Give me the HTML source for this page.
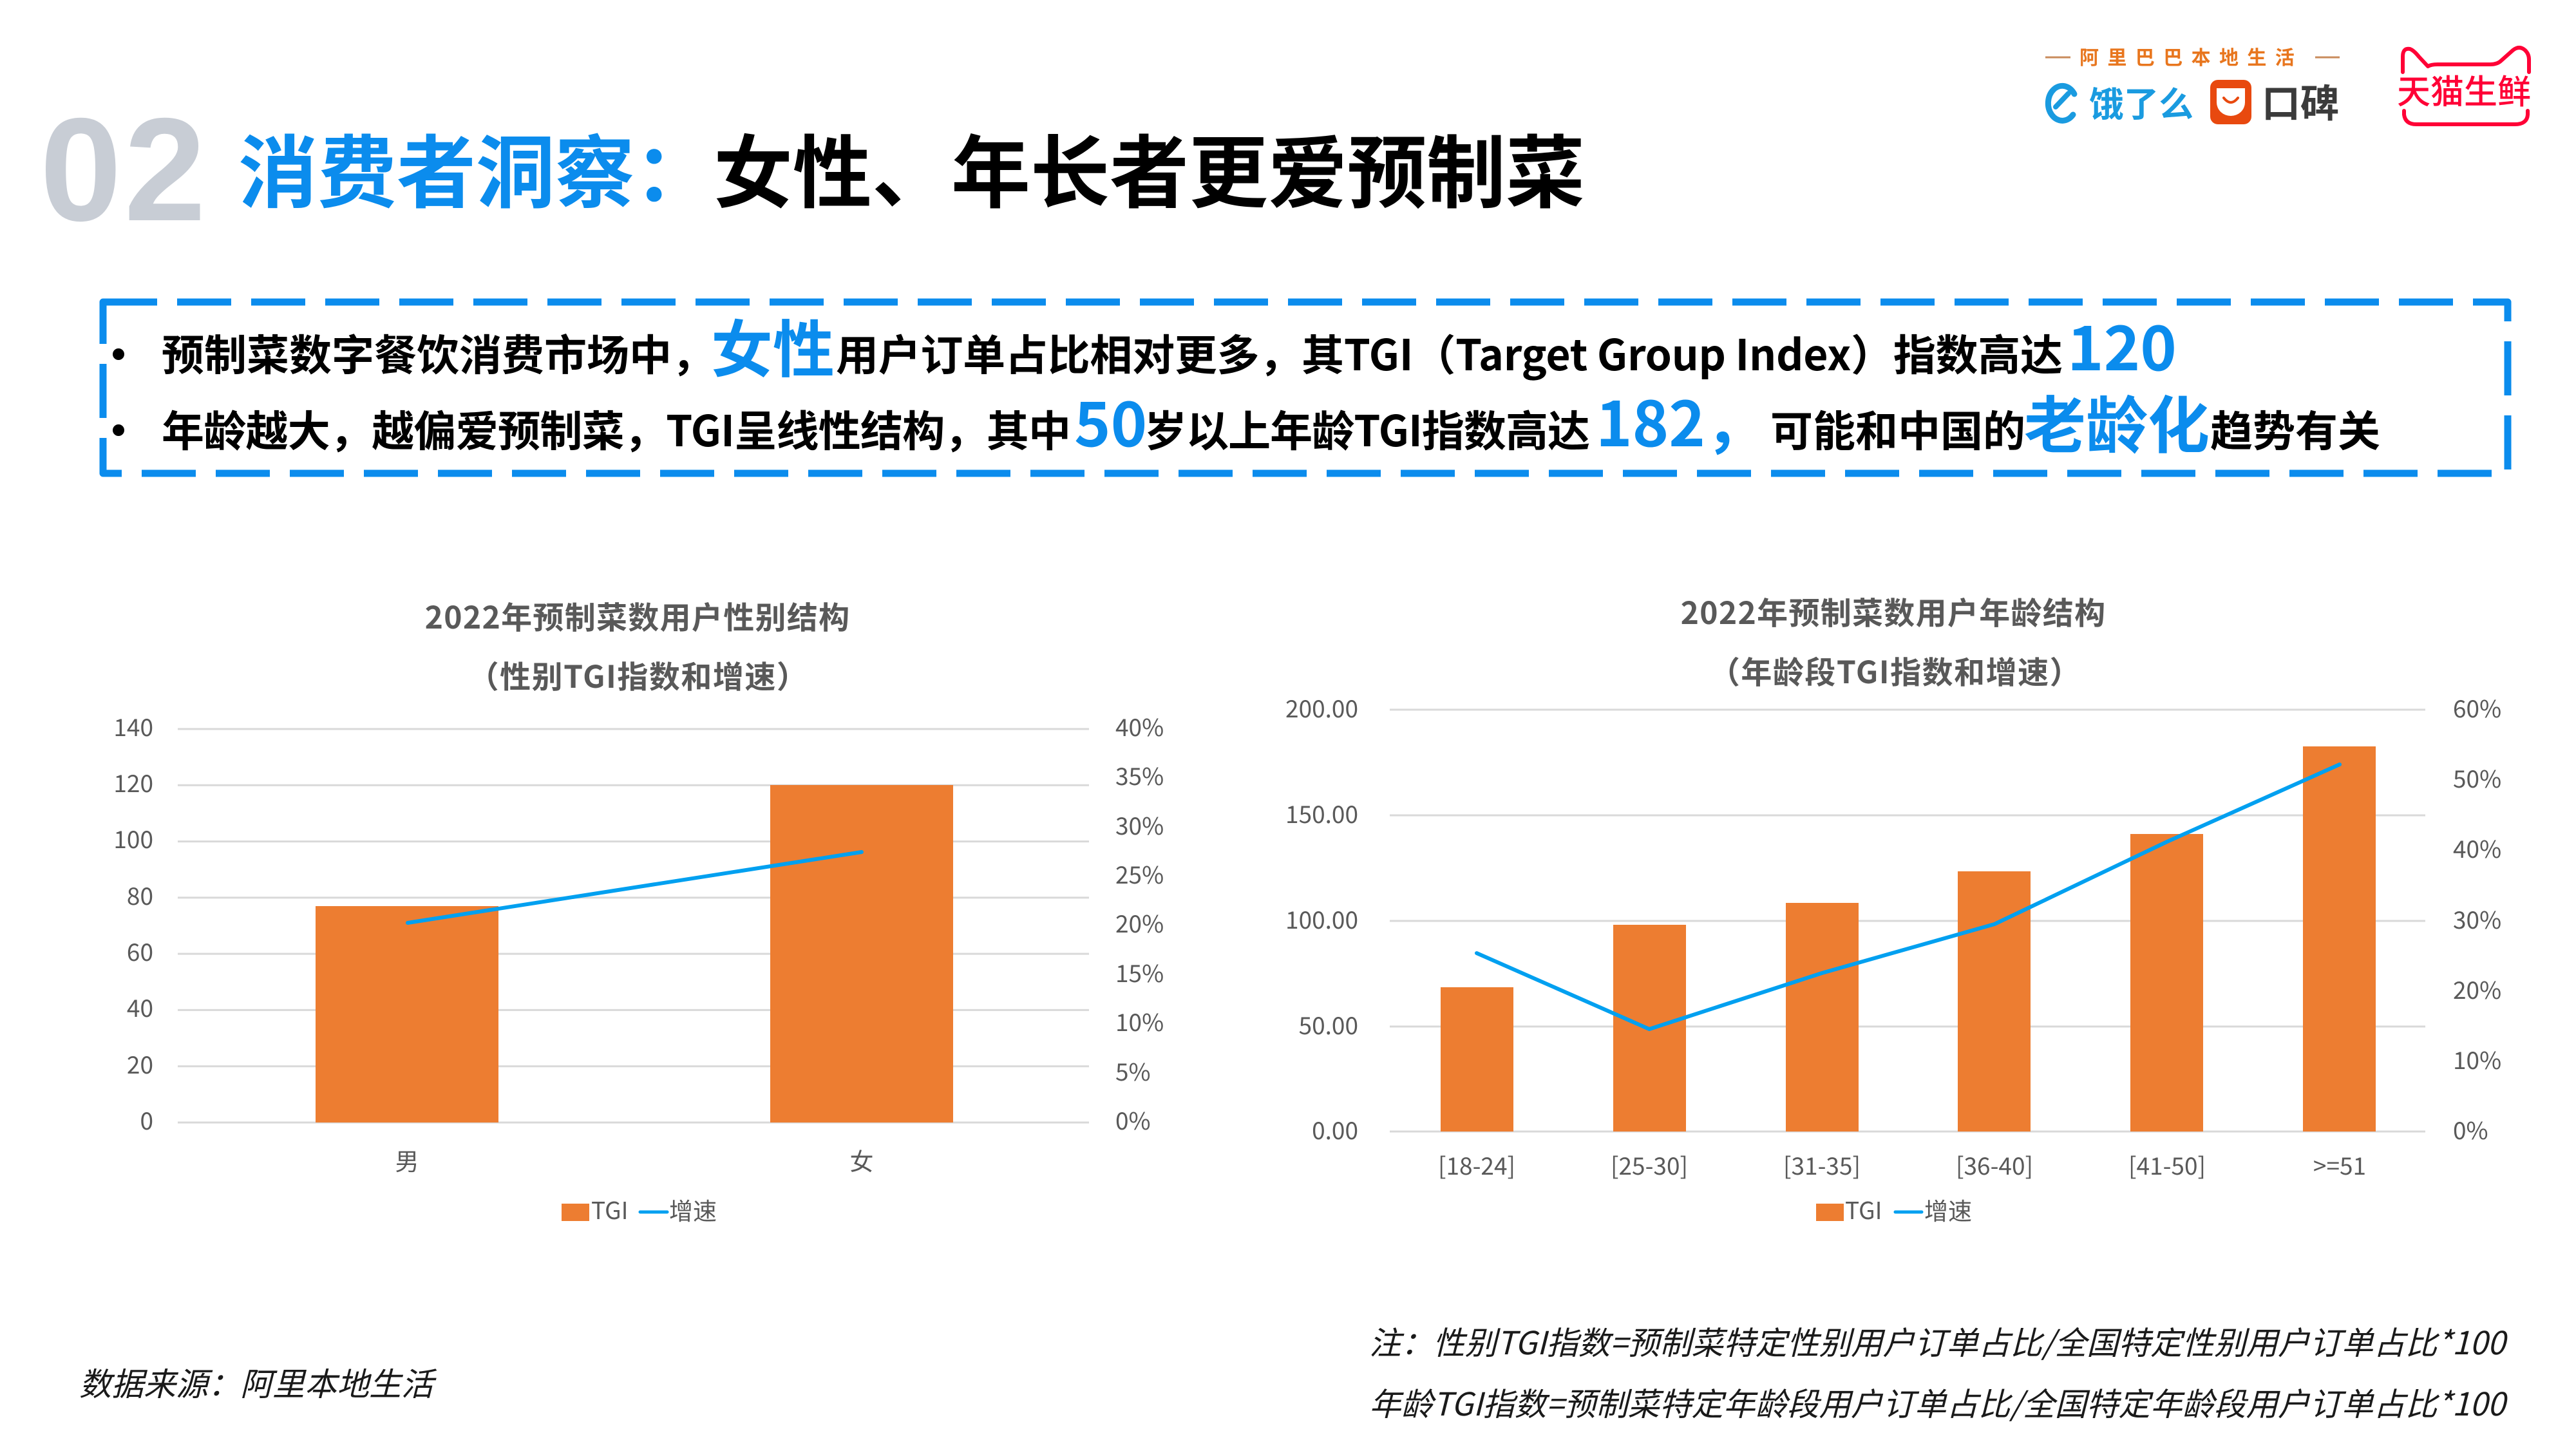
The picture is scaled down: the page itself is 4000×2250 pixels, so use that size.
<!DOCTYPE html>
<html>
<head>
<meta charset="utf-8">
<style>
html,body{margin:0;padding:0;background:#fff;}
svg{display:block;}
text{font-family:"Noto Sans CJK SC","Liberation Sans",sans-serif;}
</style>
</head>
<body>
<svg width="4000" height="2250" viewBox="0 0 4000 2250" xmlns="http://www.w3.org/2000/svg">
<rect x="0" y="0" width="4000" height="2250" fill="#ffffff"/>

<!-- ===== Header ===== -->
<text x="62" y="342" font-size="228" font-weight="700" fill="#c8cdd5" letter-spacing="4" style="font-family:'Liberation Sans',sans-serif">02</text>
<text x="370" y="312" font-size="123" font-weight="700"><tspan fill="#0b8ced">消费者洞察：</tspan><tspan fill="#000">女性、年长者更爱预制菜</tspan></text>

<!-- logos -->
<line x1="3176" y1="89" x2="3215" y2="89" stroke="#c98b5c" stroke-width="3"/>
<line x1="3595" y1="89" x2="3633" y2="89" stroke="#c98b5c" stroke-width="3"/>
<text x="3229" y="100" font-size="30" font-weight="700" fill="#e8761e" letter-spacing="13.4">阿里巴巴本地生活</text>

<path d="M3221,146 A22,27 0 1 0 3219,178" fill="none" stroke="#1a9be0" stroke-width="9" stroke-linecap="round"/>
<line x1="3192" y1="166" x2="3212" y2="145" stroke="#1a9be0" stroke-width="8" stroke-linecap="round"/>
<text x="3244" y="181" font-size="54" font-weight="700" fill="#1a9be0">饿了么</text>

<rect x="3432" y="124" width="64" height="69" rx="12" fill="#e8490f"/>
<path d="M3442,137 h44 v22 a22,21 0 0 1 -44,0 z" fill="#ffffff"/>
<path d="M3453,152 q11,14 22,0" fill="none" stroke="#e8490f" stroke-width="4" stroke-linecap="round"/>
<text x="3512" y="182" font-size="60" font-weight="700" fill="#3b3b3b">口碑</text>

<path d="M3731,112 V88 Q3731,74 3742,76 Q3748,78 3756,88 L3770,103 Q3775,100 3785,100 H3867 Q3878,100 3884,94 L3902,78 Q3912,70 3921,78 Q3927,84 3927,92 V112" fill="none" stroke="#ff0036" stroke-width="6" stroke-linejoin="round" stroke-linecap="round"/>
<path d="M3733,172 V178 Q3735,193 3752,193 H3905 Q3924,193 3925,178 V172" fill="none" stroke="#ff0036" stroke-width="6" stroke-linecap="round"/>
<text x="3722" y="161" font-size="52" font-weight="500" fill="#ff0036">天猫生鲜</text>

<!-- ===== Dashed box ===== -->
<rect x="160" y="469" width="3734" height="266" fill="none" stroke="#0b8ced" stroke-width="11" stroke-dasharray="84 31" stroke-linejoin="round"/>

<circle cx="184" cy="550" r="9" fill="#000"/>
<circle cx="184" cy="668" r="9" fill="#000"/>

<g font-size="66" font-weight="700" fill="#000">
<text x="251" y="575">预制菜数字餐饮消费市场中，</text>
<text x="1104" y="577" font-size="96" fill="#0b8ced">女性</text>
<text x="1298" y="575" textLength="1905" lengthAdjust="spacing">用户订单占比相对更多，其TGI（Target Group Index）指数高达</text>
<text x="3210" y="575" font-size="96" fill="#0b8ced">120</text>

<text x="251" y="693" textLength="1412" lengthAdjust="spacing">年龄越大，越偏爱预制菜，TGI呈线性结构，其中</text>
<text x="1668" y="693" font-size="96" fill="#0b8ced">50</text>
<text x="1777" y="693" textLength="692" lengthAdjust="spacing">岁以上年龄TGI指数高达</text>
<text x="2478" y="693" font-size="96" fill="#0b8ced">182，</text>
<text x="2749" y="693">可能和中国的</text>
<text x="3143" y="695" font-size="96" fill="#0b8ced">老龄化</text>
<text x="3432" y="693">趋势有关</text>
</g>

<!-- ===== Left chart ===== -->
<text x="990" y="976" font-size="48" font-weight="700" fill="#595959" text-anchor="middle" letter-spacing="1.3">2022年预制菜数用户性别结构</text>
<text x="991" y="1068" font-size="48" font-weight="700" fill="#595959" text-anchor="middle" letter-spacing="1.5">（性别TGI指数和增速）</text>

<g stroke="#d9d9d9" stroke-width="3">
<line x1="276" y1="1132" x2="1691" y2="1132"/>
<line x1="276" y1="1219.3" x2="1691" y2="1219.3"/>
<line x1="276" y1="1306.6" x2="1691" y2="1306.6"/>
<line x1="276" y1="1393.9" x2="1691" y2="1393.9"/>
<line x1="276" y1="1481.1" x2="1691" y2="1481.1"/>
<line x1="276" y1="1568.4" x2="1691" y2="1568.4"/>
<line x1="276" y1="1655.7" x2="1691" y2="1655.7"/>
<line x1="276" y1="1743" x2="1691" y2="1743"/>
</g>
<g font-size="37" fill="#595959" text-anchor="end">
<text x="238" y="1143">140</text>
<text x="238" y="1230">120</text>
<text x="238" y="1317">100</text>
<text x="238" y="1405">80</text>
<text x="238" y="1492">60</text>
<text x="238" y="1579">40</text>
<text x="238" y="1667">20</text>
<text x="238" y="1754">0</text>
</g>
<g font-size="37" fill="#595959" text-anchor="start">
<text x="1732" y="1143">40%</text>
<text x="1732" y="1219">35%</text>
<text x="1732" y="1296">30%</text>
<text x="1732" y="1372">25%</text>
<text x="1732" y="1448">20%</text>
<text x="1732" y="1525">15%</text>
<text x="1732" y="1601">10%</text>
<text x="1732" y="1678">5%</text>
<text x="1732" y="1754">0%</text>
</g>
<rect x="490" y="1407" width="284" height="336" fill="#ed7d31"/>
<rect x="1196" y="1219" width="284" height="524" fill="#ed7d31"/>
<line x1="633" y1="1433" x2="1338" y2="1323" stroke="#00a0f0" stroke-width="6" stroke-linecap="round"/>
<g font-size="37" fill="#595959" text-anchor="middle">
<text x="632" y="1817">男</text>
<text x="1338" y="1817">女</text>
</g>
<rect x="872" y="1869" width="43" height="27" fill="#ed7d31"/>
<text x="918" y="1893" font-size="37" fill="#595959">TGI</text>
<line x1="994" y1="1882" x2="1036" y2="1882" stroke="#00a0f0" stroke-width="5" stroke-linecap="round"/>
<text x="1039" y="1894" font-size="37" fill="#595959">增速</text>

<!-- ===== Right chart ===== -->
<text x="2940" y="969" font-size="48" font-weight="700" fill="#595959" text-anchor="middle" letter-spacing="1.3">2022年预制菜数用户年龄结构</text>
<text x="2943" y="1061" font-size="48" font-weight="700" fill="#595959" text-anchor="middle" letter-spacing="1.5">（年龄段TGI指数和增速）</text>

<g stroke="#d9d9d9" stroke-width="3">
<line x1="2158" y1="1102" x2="3766" y2="1102"/>
<line x1="2158" y1="1266" x2="3766" y2="1266"/>
<line x1="2158" y1="1430" x2="3766" y2="1430"/>
<line x1="2158" y1="1594" x2="3766" y2="1594"/>
<line x1="2158" y1="1757" x2="3766" y2="1757"/>
</g>
<g font-size="37" fill="#595959" text-anchor="end">
<text x="2109" y="1114">200.00</text>
<text x="2109" y="1278">150.00</text>
<text x="2109" y="1442">100.00</text>
<text x="2109" y="1606">50.00</text>
<text x="2109" y="1769">0.00</text>
</g>
<g font-size="37" fill="#595959" text-anchor="start">
<text x="3809" y="1114">60%</text>
<text x="3809" y="1223">50%</text>
<text x="3809" y="1332">40%</text>
<text x="3809" y="1442">30%</text>
<text x="3809" y="1551">20%</text>
<text x="3809" y="1660">10%</text>
<text x="3809" y="1769">0%</text>
</g>
<g fill="#ed7d31">
<rect x="2237" y="1533" width="113" height="224"/>
<rect x="2505" y="1436" width="113" height="321"/>
<rect x="2773" y="1402" width="113" height="355"/>
<rect x="3040" y="1353" width="113" height="404"/>
<rect x="3308" y="1295" width="113" height="462"/>
<rect x="3576" y="1159" width="113" height="598"/>
</g>
<polyline points="2293,1480 2561,1598 2829,1511 3097,1435 3365,1307 3633,1187" fill="none" stroke="#00a0f0" stroke-width="6" stroke-linejoin="round" stroke-linecap="round"/>
<g font-size="37" fill="#595959" text-anchor="middle">
<text x="2293" y="1824">[18-24]</text>
<text x="2561" y="1824">[25-30]</text>
<text x="2829" y="1824">[31-35]</text>
<text x="3097" y="1824">[36-40]</text>
<text x="3365" y="1824">[41-50]</text>
<text x="3633" y="1824">&gt;=51</text>
</g>
<rect x="2820" y="1869" width="43" height="27" fill="#ed7d31"/>
<text x="2865" y="1893" font-size="37" fill="#595959">TGI</text>
<line x1="2943" y1="1882" x2="2984" y2="1882" stroke="#00a0f0" stroke-width="5" stroke-linecap="round"/>
<text x="2988" y="1894" font-size="37" fill="#595959">增速</text>

<!-- ===== Footer ===== -->
<text x="123" y="2167" font-size="50" font-style="italic" fill="#1a1a1a">数据来源：阿里本地生活</text>
<text x="3890" y="2103" font-size="49.5" font-style="italic" fill="#1a1a1a" text-anchor="end">注：性别TGI指数=预制菜特定性别用户订单占比/全国特定性别用户订单占比*100</text>
<text x="3890" y="2198" font-size="49.5" font-style="italic" fill="#1a1a1a" text-anchor="end">年龄TGI指数=预制菜特定年龄段用户订单占比/全国特定年龄段用户订单占比*100</text>
</svg>
</body>
</html>
